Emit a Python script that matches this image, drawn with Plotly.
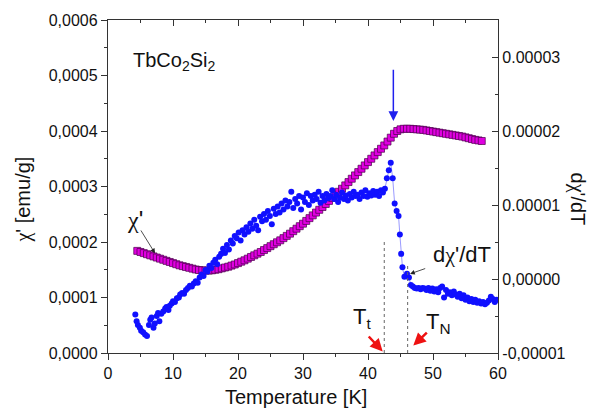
import plotly.graph_objects as go

# ---------------- data ----------------
# chi' (emu/g), in units of 1e-4
chi_T = [4.5, 5.0, 5.5, 6.0, 6.5, 7.0, 7.5, 8.0, 8.5, 9.0, 9.5, 10.0, 10.5, 11.0, 11.5, 12.0,
         12.5, 13.0, 13.5, 14.0, 14.5, 15.0, 15.5, 16.0, 16.5, 17.0, 17.5, 18.0, 18.5, 19.0,
         19.5, 20.0, 20.5, 21.0, 21.5, 22.0, 22.5, 23.0, 23.5, 24.0, 24.5, 25.0, 25.5, 26.0,
         26.5, 27.0, 27.5, 28.0, 28.5, 29.0, 29.5, 30.0, 30.5, 31.0, 31.5, 32.0, 32.5, 33.0,
         33.5, 34.0, 34.5, 35.0, 35.5, 36.0, 36.5, 37.0, 37.5, 38.0, 38.5, 39.0, 39.5, 40.0,
         40.5, 41.0, 41.5, 42.0, 42.5, 43.0, 43.5, 44.0, 44.5, 45.0, 45.5, 46.0, 46.5, 47.0,
         47.5, 48.0, 48.5, 49.0, 49.5, 50.0, 50.5, 51.0, 51.5, 52.0, 52.5, 53.0, 53.5, 54.0,
         54.5, 55.0, 55.5, 56.0, 56.5, 57.0, 57.5]
chi_val = [1.84, 1.82, 1.80, 1.78, 1.76, 1.74, 1.72, 1.70, 1.68, 1.66, 1.64, 1.62, 1.60, 1.58, 1.565, 1.55,
           1.535, 1.52, 1.505, 1.495, 1.49, 1.485, 1.485, 1.49, 1.50, 1.51, 1.525, 1.54, 1.555, 1.575,
           1.595, 1.62, 1.645, 1.67, 1.70, 1.73, 1.76, 1.79, 1.82, 1.855, 1.89, 1.925, 1.96, 1.995,
           2.03, 2.07, 2.11, 2.15, 2.195, 2.24, 2.285, 2.33, 2.38, 2.43, 2.48, 2.53, 2.58, 2.63,
           2.685, 2.74, 2.795, 2.85, 2.905, 2.96, 3.02, 3.08, 3.14, 3.20, 3.26, 3.32, 3.38, 3.44,
           3.50, 3.56, 3.62, 3.68, 3.74, 3.81, 3.88, 3.95, 4.00, 4.03, 4.04, 4.04, 4.04, 4.035,
           4.03, 4.025, 4.02, 4.01, 4.00, 3.99, 3.98, 3.97, 3.96, 3.95, 3.94, 3.93, 3.92, 3.91,
           3.90, 3.885, 3.87, 3.855, 3.84, 3.83, 3.82]

# d chi'/dT, in units of 1e-5
dchi_T = [4.2, 4.4, 4.6, 4.9, 5.1, 5.4, 5.7, 6.0, 6.3, 6.5, 6.7, 7.0, 7.2, 7.5, 7.7, 7.9, 8.2, 8.5,
          8.8, 9.0, 9.3, 9.5, 9.8, 10.0, 10.3, 10.6, 10.9, 11.1, 11.4, 11.7, 12.0, 12.3, 12.6,
          12.9, 13.2, 13.5, 13.8, 14.1, 14.4, 14.7, 15.0, 15.3, 15.6, 15.9, 16.2, 16.5, 16.8,
          17.1, 17.4, 17.7, 18.0, 18.3, 18.6, 18.9, 19.2, 19.5, 19.8, 20.1, 20.4, 20.7, 21.0,
          21.3, 21.6, 21.9, 22.2, 22.5, 22.8, 23.1, 23.4, 23.7, 24.0, 24.3, 24.6, 24.9, 25.2,
          25.5, 25.8, 26.1, 26.4, 26.7, 27.0, 27.3, 27.6, 27.9, 28.2, 28.5, 28.8, 29.1, 29.4,
          29.7, 30.0, 30.3, 30.6, 30.9, 31.2, 31.5, 31.8, 32.1, 32.4, 32.7, 33.0, 33.3, 33.6,
          33.9, 34.2, 34.5, 34.8, 35.1, 35.4, 35.7, 36.0, 36.3, 36.6, 36.9, 37.2, 37.5, 37.8,
          38.1, 38.4, 38.7, 39.0, 39.3, 39.6, 39.9, 40.2, 40.5, 40.8, 41.1, 41.4, 41.7, 42.0,
          42.3, 42.6, 42.9, 43.2, 43.5, 43.8, 44.1, 44.4, 44.7, 44.9, 45.1, 45.3, 45.6, 46.0,
          46.3, 46.6, 46.9, 47.2, 47.5, 47.8, 48.1, 48.4, 48.7, 49.0, 49.3, 49.6, 49.9, 50.2,
          50.5, 50.8, 51.1, 51.4, 51.7, 52.0, 52.3, 52.6, 52.9, 53.2, 53.5, 53.8, 54.1, 54.4,
          54.7, 55.0, 55.3, 55.6, 55.9, 56.2, 56.5, 56.8, 57.1, 57.4, 57.7, 58.0, 58.3, 58.6,
          58.9, 59.2, 59.5, 59.8]
dchi_val = [-0.48, -0.57, -0.62, -0.66, -0.70, -0.72, -0.75, -0.77, -0.62, -0.55, -0.52, -0.66, -0.60,
            -0.50, -0.46, -0.57, -0.47, -0.44, -0.40, -0.38, -0.42, -0.36, -0.33, -0.30, -0.31, -0.26,
            -0.25, -0.21, -0.19, -0.20, -0.15, -0.12, -0.09, -0.10, -0.06, -0.03, -0.05, 0.02, 0.06,
            0.04, 0.12, 0.10, 0.18, 0.15, 0.22, 0.26, 0.20, 0.30, 0.34, 0.41, 0.35, 0.46, 0.40, 0.52,
            0.48, 0.58, 0.55, 0.63, 0.52, 0.66, 0.60, 0.70, 0.64, 0.75, 0.68, 0.80, 0.72, 0.66, 0.84,
            0.78, 0.88, 0.80, 0.92, 0.85, 0.74, 0.95, 0.88, 0.98, 0.90, 1.02, 0.94, 1.06, 0.98, 1.04,
            1.18, 0.96, 1.08, 1.02, 1.12, 0.94, 1.10, 1.04, 1.16, 1.00, 1.12, 1.06, 1.14, 1.08, 1.18,
            1.03, 1.12, 1.06, 1.15, 1.09, 1.12, 1.20, 1.08, 1.14, 1.04, 1.10, 1.17, 1.08, 1.13, 1.06,
            1.15, 1.10, 1.18, 1.12, 1.14, 1.08, 1.17, 1.12, 1.20, 1.11, 1.16, 1.13, 1.19, 1.14, 1.18,
            1.12, 1.20, 1.17, 1.22, 1.36, 1.47, 1.57, 1.36, 1.02, 0.92, 0.85, 0.60, 0.34, 0.16, 0.03,
            0.07, 0.02, -0.08, -0.10, -0.12, -0.13, -0.12, -0.14, -0.12, -0.13, -0.15, -0.12, -0.16,
            -0.13, -0.17, -0.14, -0.18, -0.12, -0.10, -0.25, -0.15, -0.20, -0.18, -0.22, -0.17, -0.21,
            -0.24, -0.20, -0.26, -0.22, -0.28, -0.25, -0.30, -0.27, -0.31, -0.28, -0.32, -0.30, -0.33,
            -0.31, -0.34, -0.32, -0.29, -0.24, -0.27, -0.31, -0.28]

x_ticks = [0, 10, 20, 30, 40, 50, 60]
y_ticks = [0.0, 0.0001, 0.0002, 0.0003, 0.0004, 0.0005, 0.0006]
y_ticktext = ["0,0000", "0,0001", "0,0002", "0,0003", "0,0004", "0,0005", "0,0006"]
y2_ticks = [-0.00001, 0.0, 0.00001, 0.00002, 0.00003]
y2_ticktext = ["-0,00001", "0,00000", "0.00001", "0.00002", "0.00003"]

T_t = 42.5
T_N = 46.1

# ---------------- figure ----------------
FONT = "Liberation Sans, Arial, sans-serif"
CHI = '<span style="font-family:\'Liberation Serif\', serif;">χ</span>'
chi_y = [v * 1e-4 for v in chi_val]
dchi_y = [v * 1e-5 for v in dchi_val]
seg = [(t, v) for t, v in zip(dchi_T, dchi_y) if 42.5 <= t <= 47.6]

fig = go.Figure()
fig.add_trace(go.Scatter(
    x=chi_T, y=chi_y, mode="markers", xaxis="x", yaxis="y",
    marker=dict(symbol="square", size=7, color="#e000e0",
                line=dict(color="#4a004a", width=0.7)),
    showlegend=False, hoverinfo="skip"))
fig.add_trace(go.Scatter(
    x=[s[0] for s in seg], y=[s[1] for s in seg], mode="lines", xaxis="x", yaxis="y2",
    line=dict(color="#8080ff", width=0.8), showlegend=False, hoverinfo="skip"))
fig.add_trace(go.Scatter(
    x=dchi_T, y=dchi_y, mode="markers", xaxis="x", yaxis="y2",
    marker=dict(symbol="circle", size=6, color="#1010ff", line=dict(width=0)),
    showlegend=False, hoverinfo="skip"))
# invisible trace to activate top axis
fig.add_trace(go.Scatter(x=[None], y=[None], xaxis="x2", yaxis="y", showlegend=False))

axis_col = "#333333"
tickfont = dict(family=FONT, size=16, color="#111111")

fig.update_layout(
    width=611, height=415,
    margin=dict(l=108, r=113, t=14, b=62),
    paper_bgcolor="white", plot_bgcolor="white",
    showlegend=False,
    xaxis=dict(range=[0, 60], tickvals=x_ticks, ticks="outside", ticklen=6, tickwidth=1.2,
               tickcolor=axis_col, showline=True, linecolor=axis_col, linewidth=1.3,
               showgrid=False, zeroline=False, tickfont=tickfont,
               minor=dict(dtick=5, ticks="outside", ticklen=3, tickwidth=1.2, tickcolor=axis_col)),
    xaxis2=dict(range=[0, 60], overlaying="x", side="top", anchor="y", tickvals=x_ticks,
                ticks="inside", ticklen=6, tickwidth=1.2, tickcolor=axis_col,
                showline=True, linecolor=axis_col, linewidth=1.3, showticklabels=False,
                showgrid=False, zeroline=False,
                minor=dict(dtick=5, ticks="inside", ticklen=3, tickwidth=1.2, tickcolor=axis_col)),
    yaxis=dict(range=[0, 0.0006], tickvals=y_ticks, ticktext=y_ticktext, ticks="outside",
               ticklen=6, tickwidth=1.2, tickcolor=axis_col, showline=True, linecolor=axis_col,
               linewidth=1.3, showgrid=False, zeroline=False, tickfont=tickfont,
               minor=dict(dtick=0.00005, ticks="outside", ticklen=3, tickwidth=1.2, tickcolor=axis_col)),
    yaxis2=dict(range=[-0.00001, 0.000035], overlaying="y", side="right", anchor="x",
                tickvals=y2_ticks, ticktext=y2_ticktext, ticks="inside", ticklen=6, tickwidth=1.2,
                tickcolor=axis_col, showline=True, linecolor=axis_col, linewidth=1.3,
                showgrid=False, zeroline=False, tickfont=tickfont,
                minor=dict(dtick=0.000005, ticks="inside", ticklen=3, tickwidth=1.2, tickcolor=axis_col)),
)

anns = []
# axis titles
anns.append(dict(text="Temperature [K]", xref="paper", yref="paper", x=0.4833, y=-0.131,
                 xanchor="center", yanchor="middle", showarrow=False,
                 font=dict(family=FONT, size=20, color="#111111")))
anns.append(dict(text=CHI + "' [emu/g]", xref="paper", yref="paper", x=-0.2154, y=0.4607,
                 xanchor="center", yanchor="middle", showarrow=False, textangle=-90,
                 font=dict(family=FONT, size=20, color="#111111")))
anns.append(dict(text="d" + CHI + "'/dT", xref="paper", yref="paper", x=1.2026, y=0.4636,
                 xanchor="center", yanchor="middle", showarrow=False, textangle=90,
                 font=dict(family=FONT, size=20, color="#111111")))
# sample label
anns.append(dict(text="TbCo<sub>2</sub>Si<sub>2</sub>", xref="x", yref="y", x=3.5, y=0.000552,
                 xanchor="left", yanchor="top", showarrow=False,
                 font=dict(family=FONT, size=20, color="#111111")))
# chi' label and arrow
anns.append(dict(text=CHI + "'", xref="x", yref="y", x=4.2, y=0.000241, xanchor="center",
                 yanchor="middle", showarrow=False, font=dict(family=FONT, size=24, color="#111111")))
anns.append(dict(text="", xref="x", yref="y", x=7.23, y=0.0001797, axref="x", ayref="y",
                 ax=4.92, ay=0.0002235, showarrow=True, arrowhead=2, arrowsize=1.2,
                 arrowwidth=0.8, arrowcolor="#222222"))
# dchi'/dT label and arrow
anns.append(dict(text="d" + CHI + "'/dT", xref="x", yref="y", x=54.5, y=0.000178, xanchor="center",
                 yanchor="middle", showarrow=False, font=dict(family=FONT, size=22, color="#111111")))
anns.append(dict(text="", xref="x", yref="y", x=46.46, y=0.0001425, axref="x", ayref="y",
                 ax=49.03, ay=0.0001531, showarrow=True, arrowhead=2, arrowsize=1.2,
                 arrowwidth=0.8, arrowcolor="#222222"))
# T_t and T_N labels
anns.append(dict(text="T<sub>t</sub>", xref="x", yref="y", x=39.1, y=0.0000624, xanchor="center",
                 yanchor="middle", showarrow=False, font=dict(family=FONT, size=22, color="#111111")))
anns.append(dict(text="T<sub>N</sub>", xref="x", yref="y", x=50.9, y=0.0000536, xanchor="center",
                 yanchor="middle", showarrow=False, font=dict(family=FONT, size=22, color="#111111")))
# red arrows
anns.append(dict(text="", xref="x", yref="y", x=42.26, y=0.0000028, axref="x", ayref="y",
                 ax=39.9, ay=0.0000324, showarrow=True, arrowhead=2, arrowsize=1.0,
                 arrowwidth=2.5, arrowcolor="#ee1111"))
anns.append(dict(text="", xref="x", yref="y", x=46.97, y=0.0000134, axref="x", ayref="y",
                 ax=49.28, ay=0.0000394, showarrow=True, arrowhead=2, arrowsize=1.0,
                 arrowwidth=2.5, arrowcolor="#ee1111"))
# blue arrow marking the transition
anns.append(dict(text="", xref="x", yref="y", x=43.9, y=0.000418, axref="x", ayref="y",
                 ax=43.9, ay=0.000513, showarrow=True, arrowhead=2, arrowsize=1.3,
                 arrowwidth=1.5, arrowcolor="#2020ee"))
fig.update_layout(annotations=anns)

# dotted vertical lines at T_t and T_N
fig.add_shape(type="line", xref="x", yref="y", x0=T_t, x1=T_t, y0=0, y1=0.000204,
              line=dict(color="#666666", width=1, dash="dot"))
fig.add_shape(type="line", xref="x", yref="y", x0=T_N, x1=T_N, y0=0, y1=0.000162,
              line=dict(color="#666666", width=1, dash="dot"))

fig.write_html("out.html")
